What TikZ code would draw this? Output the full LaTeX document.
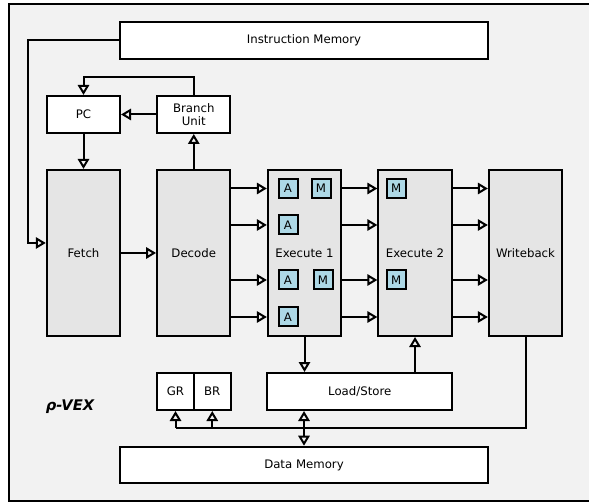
\documentclass[tikz,border=0pt]{standalone}
\usepackage{fontspec}
\setmainfont{DejaVu Sans}
\usetikzlibrary{arrows.meta}
\definecolor{framebg}{RGB}{242,242,242}
\definecolor{stagegray}{RGB}{229,229,229}
\definecolor{unitblue}{RGB}{173,216,230}

\begin{document}
\begin{tikzpicture}[x=0.75pt, y=-0.75pt, line width=1.5pt,
  font=\fontsize{8.8}{10}\selectfont,
  block/.style={draw, fill=white, inner sep=0pt, align=center},
  stage/.style={block, fill=stagegray, minimum width=55pt, minimum height=124.5pt},
  unit/.style={draw, fill=unitblue, minimum size=14.25pt, inner sep=0pt},
  arr/.style={-{Triangle[open, length=7.5pt, width=8.5pt]}}]
\useasboundingbox (0,0) rectangle (589,502);
\draw[fill=framebg] (9.3,3.7) rectangle (620,501);
% memories and control
\node[block, minimum width=276pt, minimum height=27.75pt] (imem) at (304,40.5) {Instruction Memory};
\node[block, minimum width=54.75pt, minimum height=27.75pt] (pc) at (83.5,114.5) {PC};
\node[block, minimum width=55pt, minimum height=27.75pt] (bu) at (193.75,114.5) {Branch\\Unit};
% pipeline stages
\node[stage] (fetch) at (83.5,253) {Fetch};
\node[stage] (decode) at (193.75,253) {Decode};
\node[stage] (ex1) at (304.5,253) {Execute 1};
\node[stage] (ex2) at (415,253) {Execute 2};
\node[stage] (wb) at (525.5,253) {Writeback};
% functional units
\node[unit] (a1) at (288,188.5) {A};
\node[unit] (m1) at (321,188.5) {M};
\node[unit] (a2) at (288,225) {A};
\node[unit] (a3) at (288,280) {A};
\node[unit] (m2) at (323,280) {M};
\node[unit] (a4) at (288,317) {A};
\node[unit] (m3) at (396.3,188.5) {M};
\node[unit] (m4) at (396.3,280) {M};
% register files, load/store, data memory
\node[block, minimum width=27.75pt, minimum height=27.75pt] (gr) at (175.5,391.5) {GR};
\node[block, minimum width=27.4pt, minimum height=27.75pt] (br) at (212.25,391.5) {BR};
\node[block, minimum width=138.4pt, minimum height=27.75pt] (ls) at (359.75,391.5) {Load/Store};
\node[block, minimum width=276pt, minimum height=27.4pt] (dmem) at (304,465) {Data Memory};
\node[font=\fontsize{11}{12}\selectfont\bfseries\itshape] (brand) at (70,406.7) {ρ-VEX};
% control connectors
\draw[arr] (imem.west) -| (28,243) -- (fetch.west |- 0,243);
\draw[arr] (pc.south) -- (fetch.north);
\draw[arr] (bu.west) -- (pc.east);
\draw[arr] (bu.north) -- ++(0,-18) -| (pc.north);
\draw[arr] (decode.north) -- (bu.south);
\draw[arr] (fetch.east) -- (decode.west);
% lanes between stages
\foreach \y in {188.5,225,280,317} {
  \draw[arr] (decode.east |- 0,\y) -- (ex1.west |- 0,\y);
  \draw[arr] (ex1.east |- 0,\y) -- (ex2.west |- 0,\y);
  \draw[arr] (ex2.east |- 0,\y) -- (wb.west |- 0,\y);
}
\draw[arr] (ex1.south) -- (ex1.south |- ls.north);
\draw[arr] (ex2.south |- ls.north) -- (ex2.south);
% data bus
\coordinate (bus) at (304,428);
\draw (wb.south) |- (gr.south |- bus);
\draw[arr] (gr.south |- bus) -- (gr.south);
\draw[arr] (br.south |- bus) -- (br.south);
\draw[arr] (bus) -- (bus |- ls.south);
\draw[arr] (bus) -- (bus |- dmem.north);
\end{tikzpicture}
\end{document}
